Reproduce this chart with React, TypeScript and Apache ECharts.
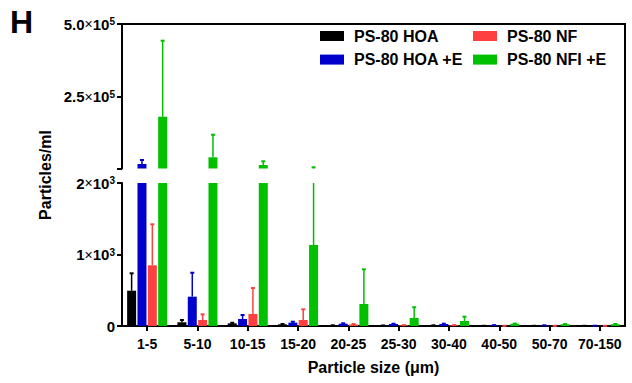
import React, { useEffect, useRef } from 'react';
import * as echarts from 'echarts';

const categories = ['1-5', '5-10', '10-15', '15-20', '20-25', '25-30', '30-40', '40-50', '50-70', '70-150'];
const seriesNames = ['PS-80 HOA', 'PS-80 HOA +E', 'PS-80 NF', 'PS-80 NFI +E'];

const hoa = [494, 52, 37, 23, 8, 5, 8, 2, 2, 2];
const hoaErr = [737, 84, 45, 28, 10, 8, 10, 3, 3, 3];
const hoaE = [17500, 410, 98, 47, 32, 28, 28, 10, 8, 3];
const hoaEErr = [31300, 745, 154, 60, 38, 32, 32, 12, 10, 4];
const nf = [849, 84, 168, 84, 22, 10, 10, 2, 2, 2];
const nfErr = [1422, 163, 531, 233, 27, 12, 12, 3, 3, 3];
const nfiE = [180500, 40600, 14000, 1133, 308, 112, 70, 30, 25, 25];
const nfiEErr = [442400, 118500, 26800, 6100, 793, 262, 130, 34, 28, 28];

const lowerTicks = [0, 1000, 2000];
const lowerTickLabels = ['{a|0}', '{a|1}{x|×}{a|10}{s|3}', '{a|2}{x|×}{a|10}{s|3}'];
const upperTicks = [2000, 250000, 500000];
const upperLabelTicks = [250000, 500000];
const upperTickLabels = ['{a|2.5}{x|×}{a|10}{s|5}', '{a|5.0}{x|×}{a|10}{s|5}'];

const colors = ['#000000', '#0000CC', '#FF4040', '#00C000'];
const BREAK = 2000;
const UPPER_MAX = 500000;

export default function App() {
  const ref = useRef<HTMLDivElement>(null);
  useEffect(() => {
    const chart = echarts.init(ref.current!, null, { renderer: 'svg' });
    const font = '"Liberation Sans", Arial, sans-serif';
    const barW = 9;
    const gapFrac = 0.15;
    const step = barW * (1 + gapFrac);
    const means = [hoa, hoaE, nf, nfiE];
    const errs = [hoaErr, hoaEErr, nfErr, nfiEErr];

    const rich = {
      a: { fontSize: 15, fontWeight: 'bold', fontFamily: font, color: '#000' },
      x: { fontSize: 14, fontFamily: font, color: '#000' },
      s: { fontSize: 10, fontWeight: 'bold', fontFamily: font, color: '#000', verticalAlign: 'top' },
    };

    const series: any[] = [];
    means.forEach((m, i) => {
      series.push({
        type: 'bar', name: seriesNames[i], xAxisIndex: 0, yAxisIndex: 0,
        data: m, barWidth: barW, barGap: '15%', itemStyle: { color: colors[i] }, clip: true,
      });
    });
    means.forEach((m, i) => {
      series.push({
        type: 'bar', name: seriesNames[i], xAxisIndex: 1, yAxisIndex: 1,
        data: m.map((v) => (v > BREAK ? v : null)), barWidth: barW, barGap: '15%',
        itemStyle: { color: colors[i] }, clip: true,
      });
    });
    [0, 1].forEach((g) => {
      means.forEach((m, i) => {
        series.push({
          type: 'custom', name: seriesNames[i], xAxisIndex: g, yAxisIndex: g, silent: true, z: 3,
          data: categories.map((c, k) => [k, m[k], errs[i][k]]),
          renderItem: (params: any, api: any) => {
            const k = api.value(0);
            const v = api.value(1);
            const e = api.value(2);
            const cs = params.coordSys;
            const top = cs.y;
            const bottom = cs.y + cs.height;
            const x = api.coord([k, e])[0] + (i - 1.5) * step;
            let yTop = api.coord([k, e])[1];
            let yBase = api.coord([k, v])[1];
            if (yBase > bottom) yBase = bottom;
            if (yTop >= bottom) return null;
            if (yBase <= top) return null;
            let cap = true;
            if (yTop < top) { yTop = top; cap = false; }
            const children: any[] = [
              { type: 'line', shape: { x1: x, y1: yBase, x2: x, y2: yTop }, style: { stroke: colors[i], lineWidth: 1.5 } },
            ];
            if (cap) {
              children.push({ type: 'rect', shape: { x: x - 2, y: yTop - 1, width: 4, height: 2 }, style: { fill: colors[i] } });
            }
            return { type: 'group', children };
          },
        });
      });
    });

    const axisLine = { show: true, lineStyle: { color: '#000', width: 2 } };
    const axisTick = { show: true, length: 5, lineStyle: { color: '#000', width: 2 } };
    const legendText = { fontSize: 16, fontWeight: 'bold', fontFamily: font, color: '#000', padding: [0, 0, 0, 5], lineHeight: 16 };

    chart.setOption({
      animation: false,
      grid: [
        { left: 122, right: 7, top: 183, height: 143 },
        { left: 122, right: 7, top: 24, height: 144.5 },
      ],
      xAxis: [
        {
          type: 'category', gridIndex: 0, data: categories,
          axisLine, axisTick: { ...axisTick, alignWithLabel: true },
          axisLabel: { fontSize: 14, fontWeight: 'bold', fontFamily: font, color: '#000', margin: 11, interval: 0 },
          name: 'Particle size (μm)', nameLocation: 'middle', nameGap: 33,
          nameTextStyle: { fontSize: 16, fontWeight: 'bold', fontFamily: font, color: '#000' },
        },
        {
          type: 'category', gridIndex: 1, data: categories, position: 'top',
          axisLine, axisTick: { show: false }, axisLabel: { show: false },
        },
      ],
      yAxis: [
        {
          type: 'value', gridIndex: 0, min: 0, max: BREAK, interval: 1000,
          axisLine, axisTick, splitLine: { show: false },
          axisLabel: {
            margin: 7,
            formatter: (v: number) => lowerTickLabels[lowerTicks.indexOf(v)] ?? '',
            rich,
          },
        },
        {
          type: 'value', gridIndex: 1, min: BREAK, max: UPPER_MAX,
          axisLine, axisTick: { ...axisTick, customValues: upperTicks }, splitLine: { show: false },
          axisLabel: {
            margin: 7,
            customValues: upperLabelTicks,
            formatter: (v: number) => upperTickLabels[upperLabelTicks.indexOf(v)] ?? '',
            rich,
          },
        },
      ],
      legend: [
        {
          data: [seriesNames[0], seriesNames[1]], orient: 'vertical', left: 315, top: 23,
          itemWidth: 24, itemHeight: 10, itemGap: 7.6, icon: 'rect', selectedMode: false,
          textStyle: legendText,
        },
        {
          data: [seriesNames[2], seriesNames[3]], orient: 'vertical', left: 468, top: 23,
          itemWidth: 24, itemHeight: 10, itemGap: 7.6, icon: 'rect', selectedMode: false,
          textStyle: legendText,
        },
      ],
      graphic: [
        { type: 'line', shape: { x1: 625, y1: 23, x2: 625, y2: 327 }, style: { stroke: '#000', lineWidth: 2 } },
        {
          type: 'text', left: 10, top: 6,
          style: { text: 'H', fontSize: 32, fontWeight: 'bold', fontFamily: font, fill: '#000' },
        },
        {
          type: 'text', x: 45, y: 175, rotation: Math.PI / 2,
          style: { text: 'Particles/ml', fontSize: 16, fontWeight: 'bold', fontFamily: font, fill: '#000', align: 'center', verticalAlign: 'middle' },
        },
      ],
      series,
    });
    return () => chart.dispose();
  }, []);
  return <div ref={ref} style={{ position: 'absolute', left: 0, top: 0, width: 632, height: 383 }} />;
}
